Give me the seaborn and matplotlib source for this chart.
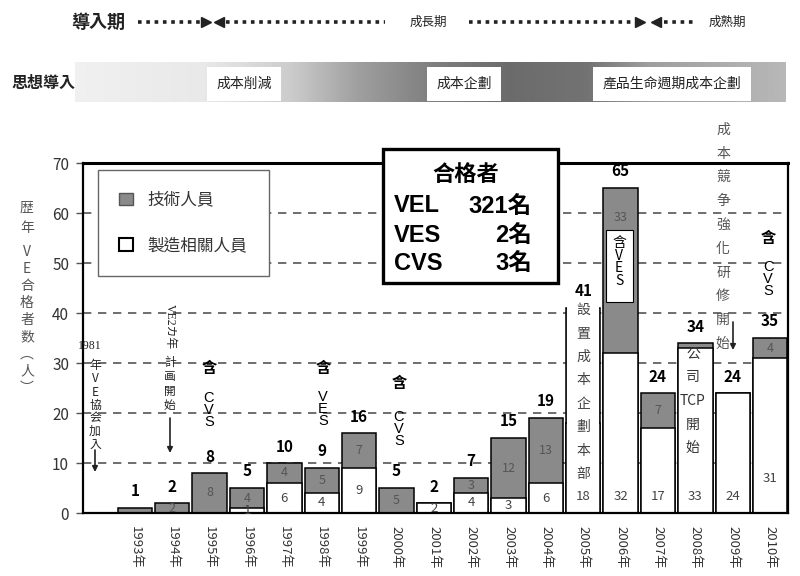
import matplotlib
matplotlib.use("Agg")
import matplotlib.pyplot as plt
from matplotlib.patches import Patch, Rectangle
import numpy as np
import pandas as pd
import seaborn as sns

# ---- data ----
years = ["1993年", "1994年", "1995年", "1996年", "1997年", "1998年", "1999年",
         "2000年", "2001年", "2002年", "2003年", "2004年", "2005年", "2006年",
         "2007年", "2008年", "2009年", "2010年"]
tech_staff = [1, 2, 8, 4, 4, 5, 7, 5, 0, 3, 12, 13, 23, 33, 7, 1, 0, 4]
mfg_staff = [0, 0, 0, 1, 6, 4, 9, 0, 2, 4, 3, 6, 18, 32, 17, 33, 24, 31]
legend_labels = ["技術人員", "製造相關人員"]
y_ticks = [0, 10, 20, 30, 40, 50, 60, 70]
y_label_top = ["歴", "年"]
y_label_rest = ["V", "E", "合", "格", "者", "数", "︵", "人", "︶"]
passed_title = "合格者"
passed_rows = [("VEL", "321名"), ("VES", "2名"), ("CVS", "3名")]
phase_labels = ["導入期", "成長期", "成熟期"]
idea_title = "思想導入"
idea_labels = ["成本削減", "成本企劃", "產品生命週期成本企劃"]

df = pd.DataFrame({"year": years, "tech": tech_staff, "mfg": mfg_staff})
df["total"] = df["tech"] + df["mfg"]

GRAY = "#8a8a8a"
INK = "#222222"

sns.set_style("white")
plt.rcParams["font.family"] = ["Noto Sans CJK TC", "DejaVu Sans"]

fig = plt.figure(figsize=(8, 5.76), dpi=100)
ax = fig.add_axes([83 / 800, 1 - 513 / 576, (788 - 83) / 800, 350 / 576])

# stacked bars: full height in gray, manufacturing part in white on top of it
sns.barplot(data=df, x="year", y="total", color=GRAY, saturation=1, width=0.92,
            edgecolor="black", linewidth=1.1, ax=ax, zorder=2)
sns.barplot(data=df, x="year", y="mfg", color="white", saturation=1, width=0.92,
            edgecolor="black", linewidth=1.1, ax=ax, zorder=2)

ax.set_xlim(-1.39, 17.48)
ax.set_ylim(0, 70)
ax.set_yticks(y_ticks)
ax.set_xlabel("")
ax.set_ylabel("")
ax.yaxis.grid(True, linestyle=(0, (5, 4)), color="#555555", linewidth=1.2)
ax.xaxis.grid(False)
ax.set_axisbelow(True)
ax.tick_params(axis="y", left=True, length=5, width=1, color="#555555",
               labelsize=11, labelcolor="#333333", pad=5)
ax.tick_params(axis="x", bottom=False, labelrotation=-90, labelsize=9.5,
               labelcolor="#333333", pad=6)
for s in ax.spines.values():
    s.set_color("black")
    s.set_linewidth(1.6)
ax.spines["top"].set_linewidth(2.2)

# white text panel over the 2005 bar
ax.add_patch(Rectangle((12 - 0.43, 0.5), 0.86, 40.8, facecolor="white",
                       edgecolor="none", zorder=3))

# value labels
for i, r in df.iterrows():
    ax.text(i, r.total + 3.3, str(r.total), ha="center", va="center",
            fontsize=11, fontweight="bold", fontstretch="condensed",
            color="black", zorder=5)
    if r.tech >= 2 and i != 12:
        ty = r.mfg + r.tech * (0.82 if i == 13 else 0.5)
        ax.text(i, ty, str(r.tech), ha="center", va="center", fontsize=9,
                color="#555555", zorder=5)
    if r.mfg >= 1:
        my = r.mfg / 2 if r.mfg < 12 else (7 if i == 17 else 3.3)
        ax.text(i, my, str(r.mfg), ha="center", va="center", fontsize=9.5,
                color="#444444", zorder=5)

ax.legend(handles=[Patch(facecolor=GRAY, edgecolor="#555555"),
                   Patch(facecolor="white", edgecolor="black", linewidth=1.5)],
          labels=legend_labels, loc="upper left", bbox_to_anchor=(0.021, 0.98),
          borderaxespad=0, fontsize=12, labelspacing=1.7, borderpad=1.3,
          handlelength=0.8, handleheight=0.8, handletextpad=0.9,
          fancybox=False, framealpha=1, edgecolor="#666666", labelcolor="#333333")

# ---- top gradient band ----
bax = fig.add_axes([75 / 800, 1 - 102 / 576, 711 / 800, 40 / 576])
stops_x = [75, 204, 290, 360, 430, 510, 587, 650, 786]
stops_v = [0.94, 0.91, 0.8, 0.62, 0.5, 0.42, 0.45, 0.62, 0.72]
grad = np.interp(np.linspace(75, 786, 500), stops_x, stops_v)
bax.imshow(grad[None, :], cmap="gray", vmin=0, vmax=1, aspect="auto")
bax.axis("off")

# ---- overlay in pixel coordinates ----
ov = fig.add_axes([0, 0, 1, 1])
ov.set_xlim(0, 800)
ov.set_ylim(576, 0)
ov.axis("off")


def stack(x, y_mid, chars, size=10, ls=1.2, color=INK, weight="normal", **kw):
    """vertical text: one character per line"""
    ov.text(x, y_mid, "\n".join(chars), ha="center", va="center",
            multialignment="center", fontsize=size, linespacing=ls,
            color=color, fontweight=weight, **kw)


def arrow(x, y0, y1, color=INK):
    ov.annotate("", xy=(x, y1), xytext=(x, y0),
                arrowprops=dict(arrowstyle="-|>", color=color, lw=1.2,
                                mutation_scale=8, shrinkA=0, shrinkB=0))


# phase row
ov.text(98, 22, phase_labels[0], ha="center", va="center", fontsize=13,
        fontweight="bold", color=INK)
ov.text(428, 22, phase_labels[1], ha="center", va="center", fontsize=9, color=INK)
ov.text(727, 22, phase_labels[2], ha="center", va="center", fontsize=9, color=INK)
for x0, x1 in [(138, 200), (226, 385), (469, 634), (664, 694)]:
    ov.plot([x0, x1], [22, 22], linestyle=(0, (1, 1.3)), lw=2.6, color=INK,
            solid_capstyle="butt", dash_capstyle="butt")
for x, m in [(206, ">"), (219, "<"), (640, ">"), (656, "<")]:
    ov.plot(x, 22, marker=m, ms=7, color=INK, mec=INK)

# idea row
ov.text(43, 83, idea_title, ha="center", va="center", fontsize=11.5,
        fontweight="bold", color=INK)
for x, t in zip([244, 464, 672], idea_labels):
    ov.text(x, 84, t, ha="center", va="center", fontsize=10, color=INK,
            bbox=dict(facecolor="white", edgecolor="none", pad=7))

# y axis title, written vertically
stack(27, 218, y_label_top, size=10, ls=1.55, color="#555555")
stack(27, 320, y_label_rest, size=10, ls=1.28, color="#555555")

# pass totals box
ov.add_patch(Rectangle((383, 149), 175, 134, facecolor="white",
                       edgecolor="black", lw=2.4))
ov.text(466, 174, passed_title, ha="center", va="center", fontsize=16,
        fontweight="bold", color="black")
for y, (k, v) in zip([206, 235, 263], passed_rows):
    ov.text(394, y, k, ha="left", va="center", fontsize=17, color="black",
            fontweight="bold", family=["Liberation Sans", "Noto Sans CJK TC"])
    ov.text(532, y, v, ha="right", va="center", fontsize=17, color="black",
            fontweight="bold", family=["Liberation Sans", "Noto Sans CJK TC"])

# annotations on the chart
ov.text(90, 346, "1981", ha="center", va="center", fontsize=8.5,
        color=INK, family=["Liberation Serif", "Noto Sans CJK TC"])
stack(95, 405, list("年VE協会加入"), size=8.5, ls=1.0)
arrow(95, 450, 472)

ov.text(170, 327, "VE2カ年", ha="center", va="center", fontsize=8.5,
        rotation=-90, color=INK, family=["Liberation Serif", "Noto Sans CJK TC"])
stack(170, 384, list("計画開始"), size=8.5, ls=1.15)
arrow(170, 418, 453)

for x, y_han, y_mid, w in [(209, 368, 410, "CVS"),
                           (323, 368, 409, "VES"),
                           (399, 383, 429, "CVS"),
                           (768, 238, 279, "CVS")]:
    ov.text(x, y_han, "含", ha="center", va="center", fontsize=11,
            fontweight="bold", color="black")
    stack(x, y_mid, list(w), size=10.5, ls=0.8, color="black",
          family=["Liberation Sans", "Noto Sans CJK TC"])

# 2005
stack(583, 392, list("設置成本企劃本部"), size=10, ls=1.87, color="#444444")

# 2006 box
ov.add_patch(Rectangle((606, 230), 27, 72, facecolor="white",
                       edgecolor="black", lw=0.8))
stack(619, 262, list("含VES"), size=10, ls=0.9, color="black")

# 2008
stack(693, 401, ["公", "司", "TCP", "開", "始"], size=10, ls=1.88,
      color="#333333")

# 2009
stack(723, 237, list("成本競争強化研修開始"), size=10, ls=1.89, color="#555555")
arrow(733, 322, 350)

fig.savefig("out.png", dpi=100)
